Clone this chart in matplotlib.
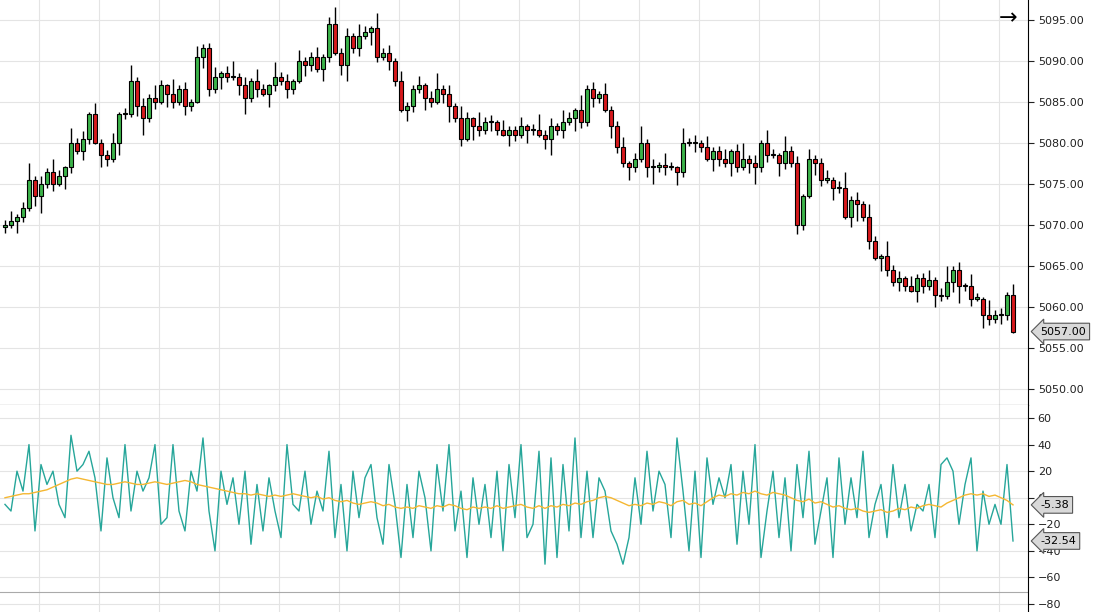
import matplotlib
matplotlib.use("Agg")
import matplotlib.pyplot as plt
import numpy as np

closes = [5070,5070.5,5071,5072,5075.5,5073.5,5075,5076.5,5075,5076,
5077,5080,5079,5080.5,5083.5,5080,5078.5,5078,5080,5083.5,
5083.5,5087.5,5084.5,5083,5085.5,5085,5087,5086,5085,5086.5,
5084.5,5085,5090.5,5091.5,5086.5,5088,5088.5,5088,5088,5087,
5085.5,5087.5,5086.5,5086,5087,5088,5087.5,5086.5,5087.5,5090,
5089.5,5090.5,5089,5090.5,5094.5,5091,5089.5,5093,5091.5,5093,
5093.5,5094,5090.5,5091,5090,5087.5,5084,5084.5,5086.5,5087,
5085.5,5085,5086.5,5086,5084.5,5083,5080.5,5083,5082,5081.5,
5082.5,5082.5,5081.5,5081,5081.5,5081,5082,5081.5,5081.5,5081,
5080.5,5082,5081.5,5082.5,5083,5084,5082.5,5086.5,5085.5,5086,
5084,5082,5079.5,5077.5,5077,5078,5080,5077,5077,5077.3,
5077,5077,5076.5,5080,5080,5080,5079.5,5078,5079,5078,
5077.5,5079,5077,5078,5077.5,5077,5080,5078.5,5078.5,5077.5,
5079,5077.5,5070,5073.5,5078,5077.5,5075.5,5075.5,5074.5,5074.5,
5071,5073,5072.5,5071,5068,5066,5066.2,5064.5,5063,5063.5,
5062.5,5062,5063.5,5062.5,5063.3,5061.5,5061.3,5063,5064.5,5062.5,
5062.5,5061,5061,5059,5058.5,5059,5059,5061.5,5057]
first_open = 5069.8
wick_up = [0.6,1.2,0.3,0.8,2.0,0.5,1.0,0.4,1.5,0.7,0.2,1.8,0.6,0.9,0.3,1.3,0.5]
wick_dn = [0.8,0.4,1.5,0.6,0.3,1.2,2.0,0.5,0.9,0.3,1.6,0.7,0.4,1.1,0.6,0.2,1.4]

osc = [-5,-10,20,5,40,-25,25,10,20,-5,
-15,47,20,25,35,15,-25,30,0,-15,
40,-10,20,5,15,40,-20,-15,40,-10,
-25,20,5,45,-10,-40,20,-5,15,-20,
20,-35,10,-25,15,-10,-30,40,-5,-10,
20,-20,5,-10,35,-30,10,-40,20,-15,
15,25,-15,-35,25,-5,-45,10,-30,20,
0,-40,25,-10,40,-25,5,-45,15,-20,
10,-30,20,-40,25,-15,40,-30,-20,35,
-50,30,-45,25,-25,45,-30,20,-30,15,
5,-25,-35,-50,-30,15,-20,35,-10,20,
10,-30,45,5,-40,20,-45,30,-5,15,
0,25,-35,20,-20,40,-45,-10,20,-30,
15,-40,25,-15,35,-35,-10,15,-45,30,
-20,15,-15,35,-30,-5,10,-30,25,-15,
10,-25,-5,-10,10,-30,25,30,20,-20,
10,30,-40,5,-20,-5,-20,25,-32.54]
signal = [0,1,2,3,3,4,5,6,8,10,
12,14,15,14,13,12,11,10,10,11,
12,11,10,10,11,12,11,10,11,12,
13,12,10,9,8,7,6,5,4,3,
3,2,3,2,1,2,1,2,3,2,
1,0,1,-1,0,-2,-3,-2,-4,-5,
-4,-3,-4,-6,-5,-7,-8,-7,-8,-6,
-7,-8,-6,-7,-5,-6,-8,-9,-7,-8,
-7,-8,-6,-8,-7,-6,-5,-7,-8,-6,
-8,-6,-7,-5,-6,-4,-5,-3,-2,0,
1,0,-2,-4,-6,-5,-6,-4,-5,-3,
-4,-6,-3,-2,-5,-4,-6,-3,0,2,
1,3,2,4,3,5,3,2,4,3,
2,0,-2,-3,-1,-4,-3,-5,-7,-6,
-8,-9,-8,-10,-11,-10,-9,-11,-10,-8,
-9,-7,-8,-6,-5,-6,-7,-4,-2,0,
2,3,2,3,1,2,0,-2,-5.38]

price_ticks = [5050,5055,5060,5065,5070,5075,5080,5085,5090,5095]
osc_ticks = [-80,-60,-40,-20,0,20,40,60]

n = len(closes)
opens = [first_open] + closes[:-1]
xs = np.arange(n)
W, H = 1093, 612
fig = plt.figure(figsize=(W/100, H/100), dpi=100)
left, right = 0, 1028/W
ax = fig.add_axes([left, 1-405/H, right-left, 405/H])
ax2 = fig.add_axes([left, 0, right-left, 207/H])
xl = (-0.83, (1028-5)/6)
for a in (ax, ax2):
    a.set_xlim(*xl)
    for s in ['top', 'left', 'bottom']:
        a.spines[s].set_visible(False)
    a.spines['right'].set_color('black')
    a.yaxis.tick_right()
    a.tick_params(axis='y', length=4, labelsize=8, colors='#222', pad=3)
    a.tick_params(axis='x', length=0, labelbottom=False)
    a.set_xticks(np.arange(5.67, n, 10))
    a.grid(True, color='#e4e4e4', lw=0.8)
    a.set_axisbelow(True)
ax.spines['bottom'].set_visible(True)
ax.spines['bottom'].set_color('black')

for i in xs:
    o, c = opens[i], closes[i]
    hi = max(o, c) + wick_up[i % len(wick_up)]
    lo = min(o, c) - wick_dn[i % len(wick_dn)]
    ax.vlines(i, lo, hi, color='black', lw=1, zorder=2)
    col = '#3cb34a' if c >= o else '#d7191c'
    bot = min(o, c); h = max(abs(c-o), 0.15)
    ax.add_patch(plt.Rectangle((i-0.32, bot), 0.64, h, facecolor=col, edgecolor='black', lw=0.8, zorder=3))
ax.set_ylim(5048.05, 5097.4)
ax.set_yticks(price_ticks)
ax.set_yticklabels([f"{v:.2f}" for v in price_ticks])

ax2.plot(xs, osc, color='#26a69a', lw=1)
ax2.plot(xs, signal, color='#f5b731', lw=1)
ax2.axhline(-70.8, color='#aaaaaa', lw=0.8)
ax2.set_ylim(-86, 69.8)
ax2.set_yticks(osc_ticks)

def tag(a, y, txt):
    a.annotate(txt, xy=(1.0, y), xycoords=('axes fraction', 'data'), xytext=(9, 0), textcoords='offset points',
               va='center', ha='left', fontsize=8, annotation_clip=False, zorder=10,
               bbox=dict(boxstyle='larrow,pad=0.3', fc='#d9d9d9', ec='#555', lw=0.8))
tag(ax, closes[-1], f"{closes[-1]:.2f}")
tag(ax2, osc[-1], f"{osc[-1]:.2f}")
tag(ax2, signal[-1], f"{signal[-1]:.2f}")
fig.text(1008/W, 1-18/H, "→", fontsize=16, ha='center', va='center')
fig.savefig("out.png", dpi=100)
